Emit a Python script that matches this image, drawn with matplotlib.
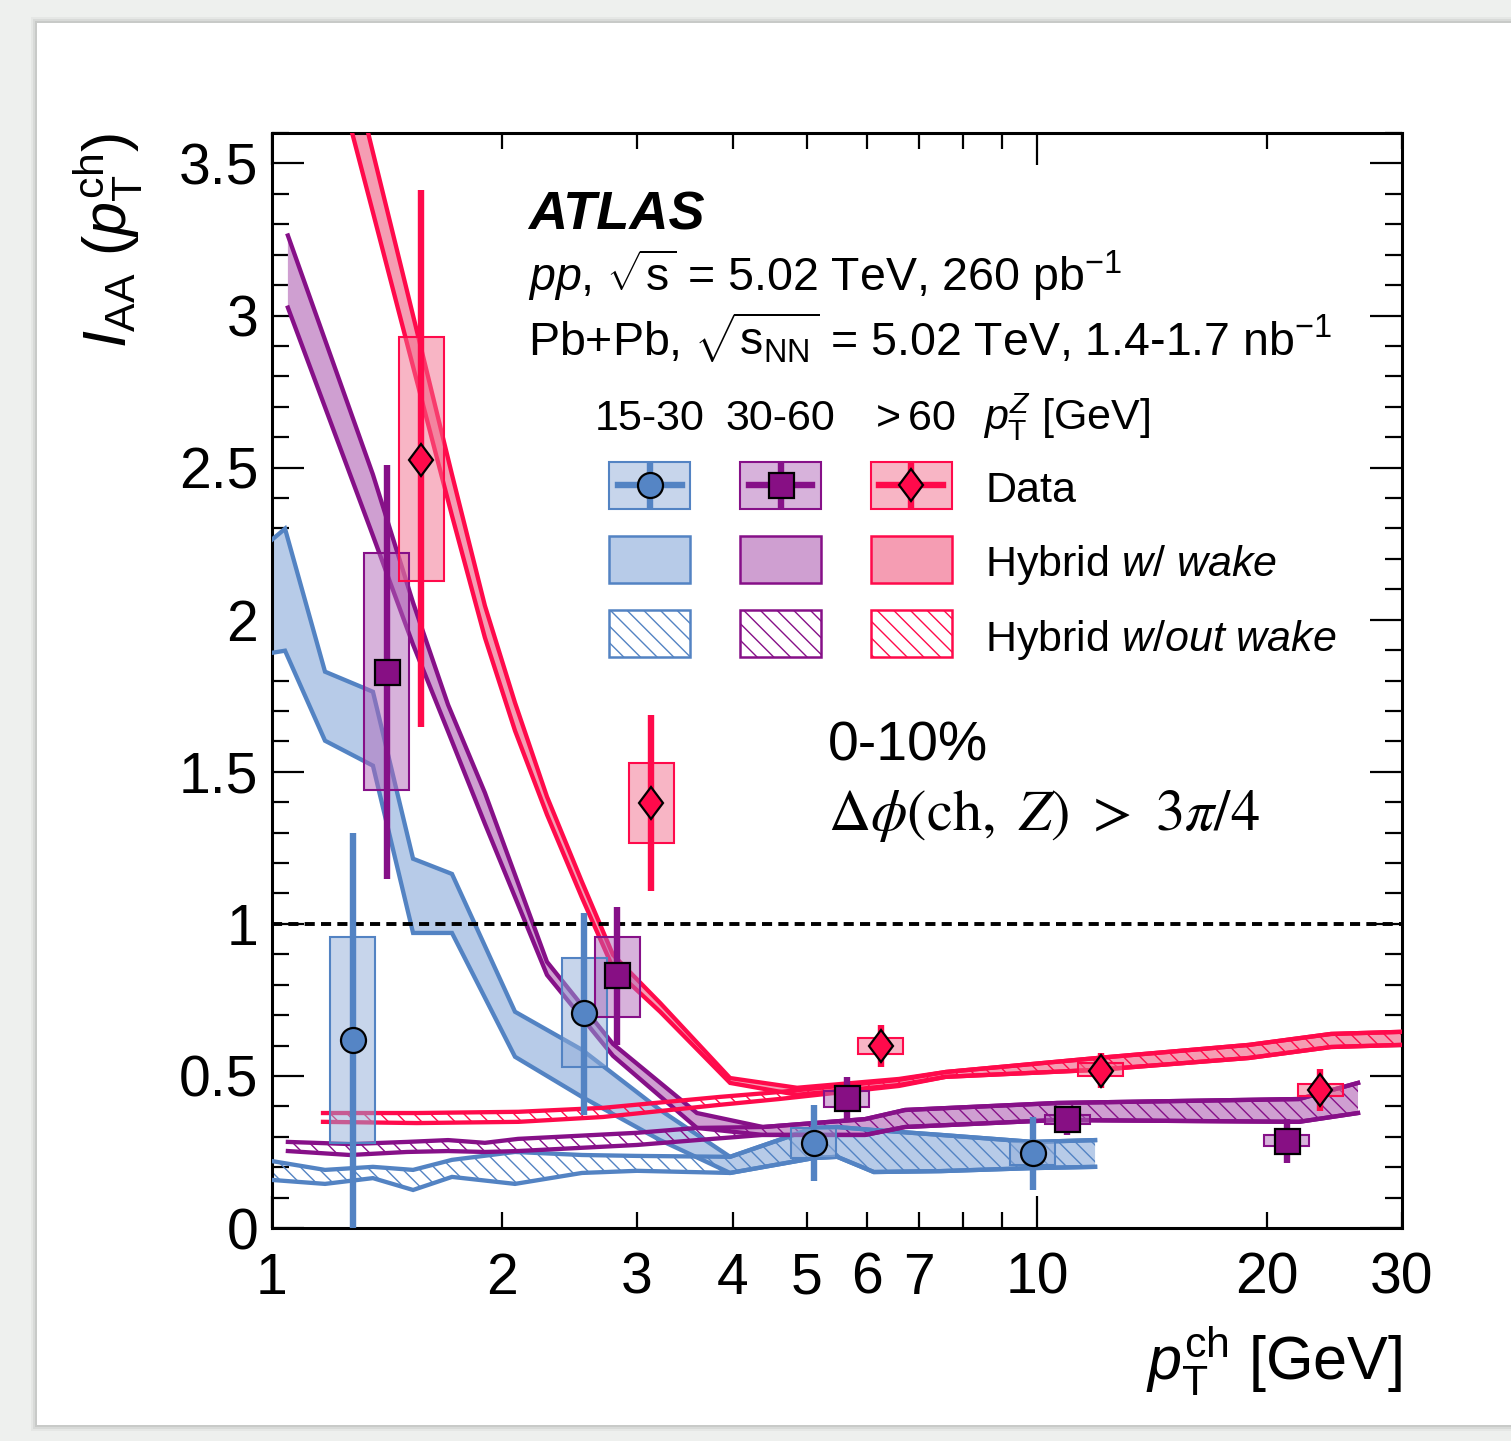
import numpy as np
import matplotlib
matplotlib.use("Agg")
import matplotlib.pyplot as plt
from matplotlib.patches import Rectangle
from matplotlib.markers import MarkerStyle
from matplotlib.transforms import Affine2D
from matplotlib.ticker import FixedLocator, FuncFormatter, MultipleLocator

plt.rcParams["font.family"] = ["Liberation Sans", "DejaVu Sans"]
plt.rcParams["mathtext.fontset"] = "custom"
plt.rcParams["mathtext.rm"] = "Liberation Sans"
plt.rcParams["mathtext.it"] = "Liberation Sans:italic"
plt.rcParams["mathtext.bf"] = "Liberation Sans:bold"
plt.rcParams["hatch.linewidth"] = 1.0

# ---------------- measured I_AA (0-10%), three pT^Z selections ----------------
# 15-30 GeV
pt_1530 = [1.276, 2.56, 5.11, 9.88]
iaa_1530 = [0.618, 0.707, 0.281, 0.247]
stat_up_1530 = [1.300, 1.036, 0.405, 0.365]
stat_dn_1530 = [-0.064, 0.372, 0.153, 0.125]
sys_up_1530 = [0.957, 0.888, 0.329, 0.286]
sys_dn_1530 = [0.280, 0.530, 0.230, 0.206]

# 30-60 GeV
pt_3060 = [1.413, 2.825, 5.64, 10.95, 21.2]
iaa_3060 = [1.829, 0.832, 0.428, 0.359, 0.286]
stat_up_3060 = [2.510, 1.056, 0.497, 0.401, 0.359]
stat_dn_3060 = [1.148, 0.602, 0.355, 0.306, 0.214]
sys_up_3060 = [2.220, 0.957, 0.451, 0.372, 0.306]
sys_dn_3060 = [1.441, 0.694, 0.398, 0.342, 0.270]

# > 60 GeV
pt_60 = [1.566, 3.13, 6.25, 12.12, 23.44]
iaa_60 = [2.526, 1.398, 0.599, 0.516, 0.454]
stat_up_60 = [3.411, 1.688, 0.668, 0.576, 0.523]
stat_dn_60 = [1.648, 1.109, 0.530, 0.461, 0.385]
sys_up_60 = [2.928, 1.530, 0.625, 0.543, 0.474]
sys_dn_60 = [2.128, 1.266, 0.572, 0.500, 0.434]

# ---------------- Hybrid model bands ----------------
# 15-30 GeV
wake_x_1530 = [1.0, 1.04, 1.173, 1.355, 1.529, 1.719, 2.078, 2.542, 3.216, 3.97,
               5.11, 5.48, 6.12, 7.49, 9.88, 11.91]
wake_hi_1530 = [2.263, 2.299, 1.829, 1.763, 1.214, 1.164, 0.711, 0.586, 0.388, 0.234,
                0.329, 0.332, 0.322, 0.306, 0.283, 0.289]
wake_lo_1530 = [1.891, 1.898, 1.602, 1.520, 0.970, 0.970, 0.563, 0.431, 0.289, 0.181,
                0.230, 0.234, 0.184, 0.187, 0.197, 0.201]
nowake_x_1530 = [1.0, 1.173, 1.355, 1.529, 1.719, 2.078, 2.542, 3.0, 3.97,
                 5.11, 5.48, 6.12, 7.49, 9.88, 11.91]
nowake_hi_1530 = [0.220, 0.191, 0.201, 0.191, 0.224, 0.250, 0.240, 0.237, 0.234,
                  0.329, 0.332, 0.322, 0.306, 0.283, 0.289]
nowake_lo_1530 = [0.158, 0.145, 0.164, 0.125, 0.168, 0.145, 0.181, 0.188, 0.181,
                  0.230, 0.234, 0.184, 0.187, 0.197, 0.201]

# 30-60 GeV
wake_x_3060 = [1.049, 1.355, 1.529, 1.699, 1.898, 2.288, 2.791, 3.593, 4.383,
               5.961, 6.722, 10.62, 22.0, 26.28]
wake_hi_3060 = [3.263, 2.477, 2.056, 1.720, 1.431, 0.875, 0.605, 0.378, 0.332,
                0.358, 0.388, 0.411, 0.424, 0.477]
wake_lo_3060 = [3.026, 2.276, 1.918, 1.632, 1.329, 0.832, 0.566, 0.329, 0.306,
                0.306, 0.332, 0.355, 0.349, 0.378]
nowake_x_3060 = [1.049, 1.265, 1.501, 1.699, 1.898, 2.097, 3.0, 3.593, 4.383,
                 5.961, 6.722, 10.62, 22.0, 26.28]
nowake_hi_3060 = [0.283, 0.276, 0.283, 0.289, 0.280, 0.293, 0.313, 0.329, 0.332,
                  0.358, 0.388, 0.411, 0.424, 0.477]
nowake_lo_3060 = [0.253, 0.240, 0.250, 0.253, 0.250, 0.253, 0.273, 0.289, 0.306,
                  0.306, 0.332, 0.355, 0.349, 0.378]

# > 60 GeV
wake_x_60 = [1.173, 1.355, 1.529, 1.719, 1.898, 2.078, 2.288, 2.542, 2.791, 3.216,
             3.97, 4.857, 6.6, 7.6, 12.0, 18.93, 24.23, 30.0]
wake_hi_60 = [4.178, 3.536, 3.000, 2.477, 2.046, 1.727, 1.418, 1.138, 0.898, 0.740,
              0.493, 0.461, 0.490, 0.513, 0.559, 0.602, 0.638, 0.645]
wake_lo_60 = [3.941, 3.339, 2.832, 2.342, 1.941, 1.635, 1.359, 1.086, 0.855, 0.711,
              0.477, 0.438, 0.470, 0.497, 0.520, 0.559, 0.595, 0.602]
nowake_x_60 = [1.166, 1.547, 2.1, 2.708, 3.85, 4.6, 6.6, 7.6, 12.0, 18.93, 24.23, 30.0]
nowake_hi_60 = [0.378, 0.378, 0.382, 0.395, 0.431, 0.447, 0.487, 0.513, 0.559, 0.602,
                0.638, 0.645]
nowake_lo_60 = [0.349, 0.345, 0.349, 0.365, 0.405, 0.424, 0.467, 0.497, 0.520, 0.559,
                0.595, 0.602]

# ---------------- styles ----------------
BLUE = dict(line="#5383c3", band="#b7cbe8", box="#91add9", marker="#5585c5")
PURP = dict(line="#861088", band="#cf9fd1", box="#b167b9", marker="#870f84")
RED = dict(line="#ff0a4b", band="#f59db3", box="#f36d8d", marker="#ff0a4b")
HATCH = "\\\\"

diamond = MarkerStyle("D", transform=Affine2D().scale(0.72, 1.0))
series = [
    (BLUE, "o", 18, pt_1530, iaa_1530, stat_up_1530, stat_dn_1530, sys_up_1530, sys_dn_1530),
    (PURP, "s", 18, pt_3060, iaa_3060, stat_up_3060, stat_dn_3060, sys_up_3060, sys_dn_3060),
    (RED, diamond, 16.5, pt_60, iaa_60, stat_up_60, stat_dn_60, sys_up_60, sys_dn_60),
]
bands = [
    (BLUE, wake_x_1530, wake_lo_1530, wake_hi_1530, nowake_x_1530, nowake_lo_1530, nowake_hi_1530),
    (PURP, wake_x_3060, wake_lo_3060, wake_hi_3060, nowake_x_3060, nowake_lo_3060, nowake_hi_3060),
    (RED, wake_x_60, wake_lo_60, wake_hi_60, nowake_x_60, nowake_lo_60, nowake_hi_60),
]

W, H = 1511, 1441
fig = plt.figure(figsize=(W / 100, H / 100), dpi=100)
fig.patch.set_facecolor("#eef0ee")

# page card with a soft shadow
for k, a in enumerate([0.10, 0.16, 0.25]):
    off = (3 - k) * 2
    fig.add_artist(Rectangle(((37 - off) / W, (H - 1425 - off) / H), 1.0, (1425 - 23 + 2 * off) / H,
                             transform=fig.transFigure, facecolor="#9a9c9a", alpha=a,
                             edgecolor="none", zorder=-20))
fig.add_artist(Rectangle((37 / W, (H - 1425) / H), 1.0, (1425 - 23) / H,
                         transform=fig.transFigure, facecolor="white", edgecolor="none", zorder=-10))

ax = fig.add_axes([272 / W, (H - 1228) / H, 1130 / W, 1095 / H])
ax.set_facecolor("white")
ax.set_xscale("log")
ax.set_xlim(1, 30)
ax.set_ylim(0, 3.6)

LW_BAND = 3.1
# model bands
for st, wx, wlo, whi, nx, nlo, nhi in bands:
    ax.fill_between(wx, wlo, whi, facecolor=st["band"], edgecolor="none", zorder=2)
for st, wx, wlo, whi, nx, nlo, nhi in bands:
    ax.fill_between(nx, nlo, nhi, facecolor="none", edgecolor=st["line"], hatch=HATCH,
                    linewidth=0, zorder=2.2)
for st, wx, wlo, whi, nx, nlo, nhi in bands:
    for xs, ys in ((wx, wlo), (wx, whi), (nx, nlo), (nx, nhi)):
        ax.plot(xs, ys, color=st["line"], lw=LW_BAND, zorder=3, solid_joinstyle="miter")

ax.axhline(1.0, color="black", lw=2.8, ls=(0, (2.6, 1.6)), zorder=4)

# data: systematic boxes, statistical bars, markers
HALF = 10 ** 0.0294
for st, mk, ms, x, y, su, sd, yu, yd in series:
    for xi, a, b in zip(x, yd, yu):
        ax.add_patch(Rectangle((xi / HALF, a), xi * HALF - xi / HALF, b - a,
                               facecolor=st["box"], alpha=0.5, edgecolor="none", zorder=5))
        ax.add_patch(Rectangle((xi / HALF, a), xi * HALF - xi / HALF, b - a,
                               facecolor="none", edgecolor=st["line"], lw=1.5, zorder=5.1))
    yerr = [np.array(y) - np.array(sd), np.array(su) - np.array(y)]
    ax.errorbar(x, y, yerr=yerr, fmt="none", ecolor=st["line"], elinewidth=4.6, capsize=0, zorder=6)
    ax.plot(x, y, ls="none", marker=mk, ms=ms, mfc=st["marker"], mec="black", mew=1.6, zorder=7)

# axes styling
for s in ax.spines.values():
    s.set_linewidth(2.2)
ax.xaxis.set_major_locator(FixedLocator([1, 10]))
ax.xaxis.set_minor_locator(FixedLocator([2, 3, 4, 5, 6, 7, 8, 9, 20, 30]))
ax.xaxis.set_major_formatter(FuncFormatter(lambda v, p: "%g" % v))
ax.xaxis.set_minor_formatter(FuncFormatter(lambda v, p: "" if round(v) in (8, 9) else "%g" % v))
ax.yaxis.set_major_locator(MultipleLocator(0.5))
ax.yaxis.set_minor_locator(MultipleLocator(0.1))
ax.yaxis.set_major_formatter(FuncFormatter(lambda v, p: "%g" % v))
ax.tick_params(axis="x", which="major", direction="in", length=23, width=1.6, top=True,
               labelsize=41, pad=17)
ax.tick_params(axis="x", which="minor", direction="in", length=11.5, width=1.6, top=True,
               labelsize=41, pad=17)
ax.tick_params(axis="y", which="major", direction="in", length=23, width=1.6, right=True,
               labelsize=41, pad=10)
ax.tick_params(axis="y", which="minor", direction="in", length=12, width=1.6, right=True)

ax.set_xlabel(r"$p_{\mathrm{T}}^{\mathrm{ch}}$ [GeV]", fontsize=44, loc="right")
ax.xaxis.set_label_coords(1.0, -0.088)
ax.set_ylabel(r"$I_{\mathrm{AA}}\ (p_{\mathrm{T}}^{\mathrm{ch}})$", fontsize=44, loc="top")
ax.yaxis.set_label_coords(-0.112, 1.0)

# labels
T = ax.transAxes
ax.text(0.2265, 0.9123, "ATLAS", transform=T, fontsize=39, fontweight="bold", fontstyle="italic")
ax.text(0.2265, 0.8557, r"$pp$, $\sqrt{\mathrm{s}}$ = 5.02 TeV, 260 pb$^{\mathrm{-1}}$",
        transform=T, fontsize=33.5)
ax.text(0.2265, 0.797, r"Pb+Pb, $\sqrt{\mathrm{s}_{\mathrm{NN}}}$ = 5.02 TeV, 1.4-1.7 nb$^{\mathrm{-1}}$",
        transform=T, fontsize=33.5)
ax.text(0.492, 0.4265, "0-10%", transform=T, fontsize=40)
ax.text(0.492, 0.3635, r"$\Delta\phi(\mathrm{ch},\ Z)\ >\ 3\pi/4$", transform=T, fontsize=42,
        math_fontfamily="stix")

# legend
col_x = [0.3341, 0.4500, 0.5659]
row_y = [0.6781, 0.6105, 0.5425]
bw, bh = 0.0717, 0.0429
headers = ["15-30", "30-60", r"$>$60"]
for cx, st, h in zip(col_x, [BLUE, PURP, RED], headers):
    ax.text(cx, 0.7288, h, transform=T, fontsize=31, ha="center", va="baseline")
ax.text(0.629, 0.7288, r"$p_{\mathrm{T}}^{Z}$ [GeV]", transform=T, fontsize=31, va="baseline")
row_txt = ["Data", r"Hybrid $\mathit{w/\ wake}$", r"Hybrid $\mathit{w/out\ wake}$"]
for ry, t in zip(row_y, row_txt):
    ax.text(0.631, ry - 0.0155, t, transform=T, fontsize=31, va="baseline")

for (st, mk, ms, *_), cx in zip(series, col_x):
    ry = row_y[0]
    ax.add_patch(Rectangle((cx - bw / 2, ry - bh / 2), bw, bh, transform=T, facecolor=st["box"],
                           alpha=0.5, edgecolor="none", zorder=8, clip_on=False))
    ax.add_patch(Rectangle((cx - bw / 2, ry - bh / 2), bw, bh, transform=T, facecolor="none",
                           edgecolor=st["line"], lw=1.5, zorder=8.1, clip_on=False))
    ax.plot([cx - 0.0283, cx + 0.0283], [ry, ry], transform=T, color=st["line"], lw=4.6,
            zorder=8.2, clip_on=False)
    ax.plot([cx, cx], [ry - 0.0174, ry + 0.0174], transform=T, color=st["line"], lw=4.6,
            zorder=8.2, clip_on=False)
    ax.plot([cx], [ry], transform=T, ls="none", marker=mk, ms=ms, mfc=st["marker"], mec="black",
            mew=1.6, zorder=8.3, clip_on=False)
    ry = row_y[1]
    ax.add_patch(Rectangle((cx - bw / 2, ry - bh / 2), bw, bh, transform=T, facecolor=st["band"],
                           edgecolor=st["line"], lw=1.8, zorder=8, clip_on=False))
    ry = row_y[2]
    ax.add_patch(Rectangle((cx - bw / 2, ry - bh / 2), bw, bh, transform=T, facecolor="none",
                           edgecolor=st["line"], hatch=HATCH, lw=1.8, zorder=8, clip_on=False))

fig.savefig("out.png", dpi=100, facecolor=fig.get_facecolor())
